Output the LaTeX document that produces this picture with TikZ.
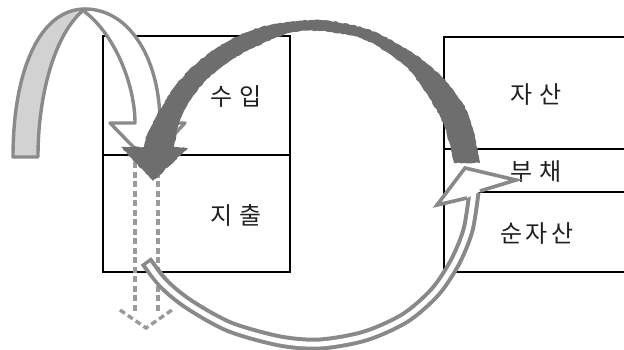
\documentclass[tikz,border=0pt]{standalone}
\usepackage{fontspec}
\newfontfamily\kr{Noto Sans CJK KR}
\usetikzlibrary{decorations.pathmorphing}
\definecolor{lightfill}{HTML}{D2D2D2}
\definecolor{lightline}{HTML}{8A8A8A}
\definecolor{darkarrow}{HTML}{6E6E6E}
\definecolor{dashgray}{HTML}{9A9A9A}
\definecolor{hollowgray}{HTML}{898989}
\definecolor{txt}{HTML}{202020}
\tikzset{
  boxline/.style={line width=2.2pt, black},
  lbl/.style={font=\kr\fontsize{24}{24}\selectfont, text=txt, inner sep=0pt},
  lightrib/.style={draw=lightline, line width=3.4pt, line join=round},
  dashline/.style={dashgray, line width=3.4pt, dash pattern=on 6pt off 3.5pt},
  rough/.style={decorate, decoration={random steps, segment length=2.5pt, amplitude=0.6pt}}
}
\begin{document}
\begin{tikzpicture}[x=1pt,y=-1pt]
\useasboundingbox (0,0) rectangle (624,349);
% left box
\draw[boxline] (103,36) rectangle (290,272);
\draw[boxline] (103,155) -- (290,155);
% right box (open to the right edge)
\draw[boxline] (626,37) -- (444,37) -- (444,272) -- (626,272);
\draw[boxline] (444,149) -- (626,149);
\draw[boxline] (444,192) -- (626,192);
% labels
\node[lbl] (suip) at (236,97) {수\hspace{6pt}입};
\node[lbl] (jichul) at (236,215) {지\hspace{6pt}출};
\node[lbl] (jasan) at (536,95) {자\hspace{6pt}산};
\node[lbl] (buchae) at (536,172) {부\hspace{6pt}채};
\node[lbl] (sunjasan) at (537,234) {순\hspace{3pt}자\hspace{3pt}산};
% light ribbon arrow
\coordinate (ltop) at (85,9);
\coordinate (ltopi) at (85,12);
\filldraw[lightrib, fill=lightfill] (13,157) .. controls (13,70) and (40,9) .. (ltop)
   .. controls (57,30) and (38,90) .. (38,157) -- cycle;
\filldraw[lightrib, fill=white] (ltop) .. controls (130,9) and (160,60) .. (160,123)
   -- (185,123) -- (148,162) -- (110,123) -- (135,123)
   .. controls (135,85) and (115,35) .. (ltopi) -- cycle;
% dashed arrow
\coordinate (dl1) at (135,162);
\coordinate (dl2) at (158,162);
\coordinate (dtip) at (146,328);
\draw[dashline] (dl1) -- (135,312);
\draw[dashline] (dl2) -- (158,312);
\draw[dashline, line join=miter] (120,310) -- (dtip) -- (172,310);
% dark brush arrow
\fill[darkarrow, rough] plot[smooth] coordinates {(480,163) (473,130) (463,104) (441,76) (410,51) (367,29) (320,20) (270,25) (233,38) (200,60) (175,86) (157,115) (147,135) (144,147)}
   -- (121,147) -- (153,181) -- (188,148) -- (174,147)
   -- plot[smooth] coordinates {(174,147) (180,120) (193,96) (213,74) (247,51) (300,31) (360,38) (404,65) (430,99) (445,128) (454,163)} -- cycle;
% hollow arrow
\draw[hollowgray, line width=13pt] plot[smooth] coordinates {(146,261) (165,285) (190,305) (230,327) (280,341) (320,344) (365,336) (405,318) (435,292) (455,262) (468,230) (474,192)};
\draw[white, line width=5pt, shorten <=3.5pt] plot[smooth] coordinates {(146,261) (165,285) (190,305) (230,327) (280,341) (320,344) (365,336) (405,318) (435,292) (455,262) (468,230) (474,192)};
\fill[white] (465,199) -- (437,205) -- (465,168) -- (516,180) -- (481,191) -- cycle;
\draw[hollowgray, line width=3.6pt, line join=miter] (467,198) -- (437,205) -- (465,168) -- (516,180) -- (480,191);
\end{tikzpicture}
\end{document}
